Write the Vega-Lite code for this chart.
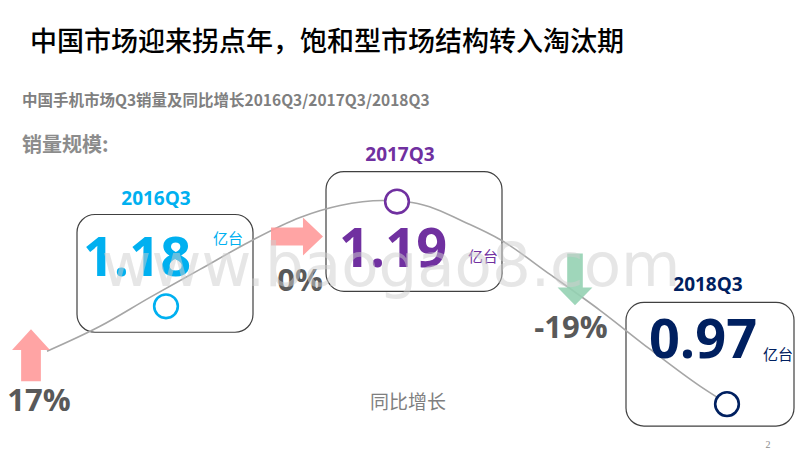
{
  "$schema": "https://vega.github.io/schema/vega-lite/v6.json",
  "width": 800,
  "height": 450,
  "autosize": {"type": "fit", "contains": "padding"},
  "padding": 0,
  "background": "white",
  "config": {"view": {"stroke": null}},
  "encoding": {
    "x": {"field": "x", "type": "quantitative", "scale": {"domain": [0, 800], "nice": false, "zero": false}, "axis": null},
    "y": {"field": "y", "type": "quantitative", "scale": {"domain": [0, 450], "nice": false, "zero": false, "reverse": true}, "axis": null}
  },
  "layer": [
    {
      "data": {"values": [
        {"period": "2016Q3", "x": 77, "xr": 253, "y": 215, "yb": 333},
        {"period": "2017Q3", "x": 326, "xr": 502, "y": 172, "yb": 292},
        {"period": "2018Q3", "x": 626, "xr": 794, "y": 303, "yb": 427}
      ]},
      "mark": {"type": "rect", "fill": "transparent", "stroke": "#404040", "strokeWidth": 1.2, "cornerRadius": 18},
      "encoding": {"x2": {"field": "xr"}, "y2": {"field": "yb"}}
    },
    {
      "data": {"values": [
        {"i": 0, "x": 47, "y": 352},
        {"i": 1, "x": 100, "y": 327},
        {"i": 2, "x": 150, "y": 298},
        {"i": 3, "x": 200, "y": 270},
        {"i": 4, "x": 250, "y": 242},
        {"i": 5, "x": 300, "y": 218},
        {"i": 6, "x": 340, "y": 206},
        {"i": 7, "x": 383, "y": 201},
        {"i": 8, "x": 412, "y": 203},
        {"i": 9, "x": 470, "y": 225},
        {"i": 10, "x": 500, "y": 240},
        {"i": 11, "x": 550, "y": 275},
        {"i": 12, "x": 600, "y": 311},
        {"i": 13, "x": 650, "y": 350},
        {"i": 14, "x": 700, "y": 387},
        {"i": 15, "x": 720, "y": 400}
      ]},
      "mark": {"type": "line", "color": "#a6a6a6", "strokeWidth": 1.6, "interpolate": "monotone"},
      "encoding": {"order": {"field": "i", "type": "quantitative"}}
    },
    {
      "data": {"values": [
        {"dir": "up", "x": 31, "y": 356},
        {"dir": "right", "x": 297, "y": 237},
        {"dir": "down", "x": 575, "y": 280}
      ]},
      "mark": {"type": "point", "filled": true, "fillOpacity": 0.9, "size": 2700, "strokeWidth": 0},
      "encoding": {
        "shape": {"field": "dir", "type": "nominal", "legend": null, "scale": {"domain": ["up", "right", "down"], "range": [
          "M0,-1L0.73,-0.2L0.38,-0.2L0.38,1L-0.38,1L-0.38,-0.2L-0.73,-0.2Z",
          "M1,0L0.23,-0.73L0.23,-0.35L-1,-0.35L-1,0.35L0.23,0.35L0.23,0.73Z",
          "M0,1L0.67,0.31L0.3,0.31L0.3,-1L-0.3,-1L-0.3,0.31L-0.67,0.31Z"
        ]}},
        "fill": {"field": "dir", "type": "nominal", "legend": null, "scale": {"domain": ["up", "right", "down"], "range": ["#ff9a9a", "#ff9a9a", "#95d1b3"]}}
      }
    },
    {
      "data": {"values": [
        {"period": "2016Q3", "x": 166, "y": 307},
        {"period": "2017Q3", "x": 397, "y": 202},
        {"period": "2018Q3", "x": 727, "y": 405}
      ]},
      "mark": {"type": "point", "shape": "circle", "filled": false, "fill": "white", "fillOpacity": 1, "opacity": 1, "size": 560, "strokeWidth": 2.6},
      "encoding": {
        "stroke": {"field": "period", "type": "nominal", "legend": null, "scale": {"domain": ["2016Q3", "2017Q3", "2018Q3"], "range": ["#00b0f0", "#7030a0", "#002060"]}}
      }
    },
    {
      "data": {"values": [
        {"label": "中国市场迎来拐点年，饱和型市场结构转入淘汰期", "x": 30, "y": 43}
      ]},
      "mark": {"type": "text", "align": "left", "baseline": "middle", "font": "Noto Sans CJK SC", "fontSize": 27, "fontWeight": 500, "color": "#000000"},
      "encoding": {"text": {"field": "label"}}
    },
    {
      "data": {"values": [
        {"label": "中国手机市场Q3销量及同比增长2016Q3/2017Q3/2018Q3", "x": 22, "y": 101}
      ]},
      "mark": {"type": "text", "align": "left", "baseline": "middle", "font": "Noto Sans CJK SC", "fontSize": 15.5, "fontWeight": "bold", "color": "#7f7f7f"},
      "encoding": {"text": {"field": "label"}}
    },
    {
      "data": {"values": [
        {"label": "销量规模:", "x": 22, "y": 146}
      ]},
      "mark": {"type": "text", "align": "left", "baseline": "middle", "font": "Noto Sans CJK SC", "fontSize": 20, "fontWeight": "bold", "color": "#8c8c8c"},
      "encoding": {"text": {"field": "label"}}
    },
    {
      "data": {"values": [
        {"period": "2016Q3", "x": 156, "y": 199},
        {"period": "2017Q3", "x": 400, "y": 155},
        {"period": "2018Q3", "x": 708, "y": 286}
      ]},
      "mark": {"type": "text", "align": "center", "baseline": "middle", "font": "Open Sans", "fontSize": 19, "fontWeight": "bold"},
      "encoding": {
        "text": {"field": "period"},
        "color": {"field": "period", "type": "nominal", "legend": null, "scale": {"domain": ["2016Q3", "2017Q3", "2018Q3"], "range": ["#00b0f0", "#7030a0", "#002060"]}}
      }
    },
    {
      "data": {"values": [
        {"period": "2016Q3", "sales": 1.18, "x": 137, "y": 261},
        {"period": "2017Q3", "sales": 1.19, "x": 393, "y": 252},
        {"period": "2018Q3", "sales": 0.97, "x": 703, "y": 343}
      ]},
      "mark": {"type": "text", "align": "center", "baseline": "middle", "font": "Open Sans", "fontSize": 54, "fontWeight": "bold"},
      "encoding": {
        "text": {"field": "sales", "type": "quantitative", "format": ".2f"},
        "color": {"field": "period", "type": "nominal", "legend": null, "scale": {"domain": ["2016Q3", "2017Q3", "2018Q3"], "range": ["#00b0f0", "#7030a0", "#002060"]}}
      }
    },
    {
      "data": {"values": [
        {"period": "2016Q3", "unit": "亿台", "x": 228, "y": 240},
        {"period": "2017Q3", "unit": "亿台", "x": 483, "y": 258},
        {"period": "2018Q3", "unit": "亿台", "x": 778, "y": 356}
      ]},
      "mark": {"type": "text", "align": "center", "baseline": "middle", "font": "Noto Sans CJK SC", "fontSize": 15},
      "encoding": {
        "text": {"field": "unit"},
        "color": {"field": "period", "type": "nominal", "legend": null, "scale": {"domain": ["2016Q3", "2017Q3", "2018Q3"], "range": ["#00b0f0", "#7030a0", "#002060"]}}
      }
    },
    {
      "data": {"values": [
        {"growth": "17%", "x": 39, "y": 403},
        {"growth": "0%", "x": 300, "y": 283},
        {"growth": "-19%", "x": 571, "y": 330}
      ]},
      "mark": {"type": "text", "align": "center", "baseline": "middle", "font": "Open Sans", "fontSize": 31, "fontWeight": "bold", "color": "#595959"},
      "encoding": {"text": {"field": "growth"}}
    },
    {
      "data": {"values": [
        {"label": "同比增长", "x": 408, "y": 404}
      ]},
      "mark": {"type": "text", "align": "center", "baseline": "middle", "font": "Noto Sans CJK SC", "fontSize": 19, "color": "#7f7f7f"},
      "encoding": {"text": {"field": "label"}}
    },
    {
      "data": {"values": [
        {"label": "www.baogao8.com", "x": 391, "y": 287}
      ]},
      "mark": {"type": "text", "align": "center", "baseline": "alphabetic", "font": "DejaVu Sans", "fontSize": 61, "color": "#cfcfcf", "opacity": 0.5},
      "encoding": {"text": {"field": "label"}}
    },
    {
      "data": {"values": [
        {"label": "2", "x": 768, "y": 446}
      ]},
      "mark": {"type": "text", "align": "center", "baseline": "middle", "font": "Liberation Serif", "fontSize": 10, "color": "#8c8c8c"},
      "encoding": {"text": {"field": "label"}}
    }
  ]
}
